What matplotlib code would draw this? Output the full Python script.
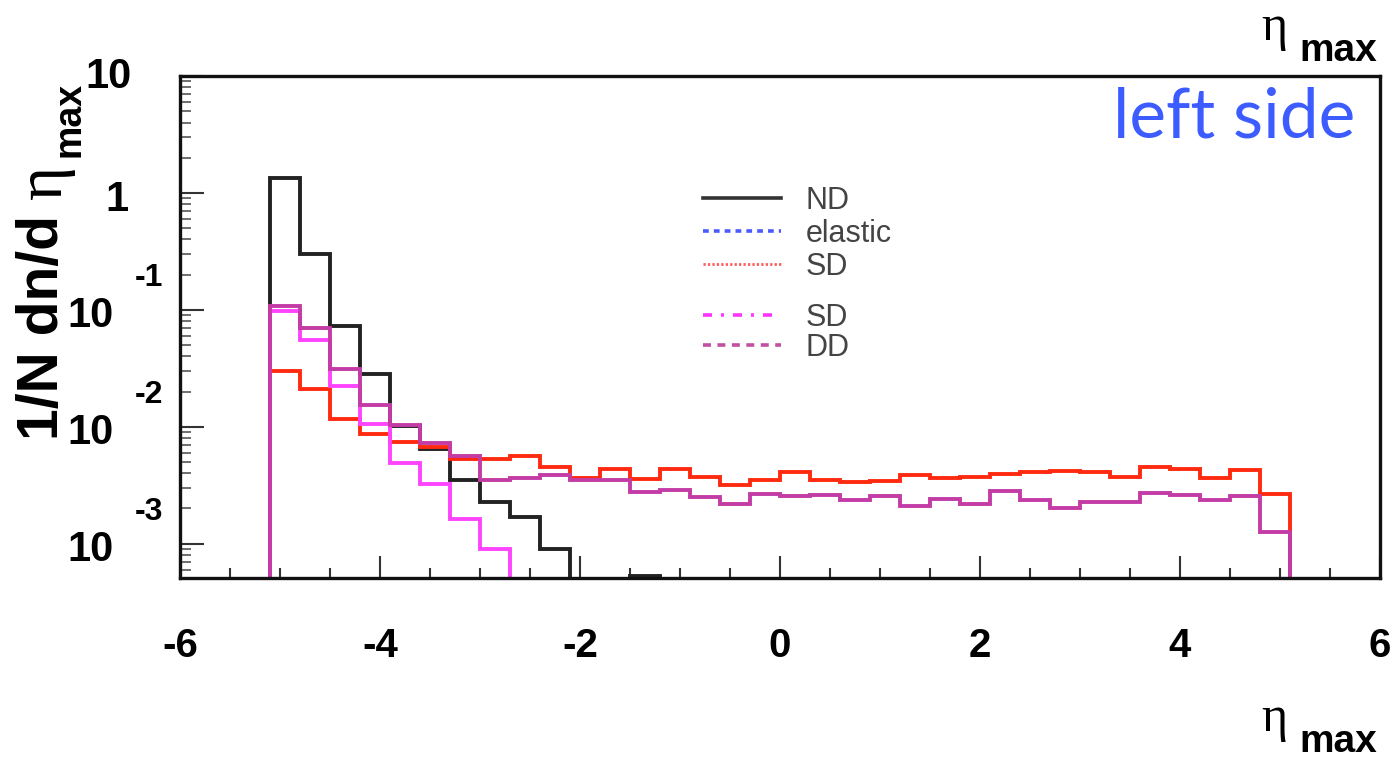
import numpy as np
import matplotlib.pyplot as plt
from matplotlib.lines import Line2D
from matplotlib.ticker import MultipleLocator, LogLocator, NullFormatter
from matplotlib.transforms import offset_copy

# 34 bins of 0.3 between -5.1 and 5.1
edges = np.round(np.arange(-5.1, 5.1001, 0.3), 2)

nd = [1.33, 0.30, 0.072, 0.028, 0.0101, 0.0064, 0.0035, 0.00225, 0.00168, 0.0009,
      0, 0, 0.00053, 0, 0, 0, 0, 0, 0, 0, 0, 0, 0, 0, 0, 0, 0, 0, 0, 0, 0, 0, 0, 0]
sd_red = [0.0299, 0.0211, 0.0117, 0.0086, 0.0074, 0.00676, 0.00527, 0.00533, 0.00562, 0.0045,
          0.00367, 0.00433, 0.00356, 0.00439, 0.00375, 0.0032, 0.00349, 0.00406, 0.00351, 0.00337,
          0.00344, 0.00387, 0.00367, 0.00375, 0.00393, 0.00411, 0.00419, 0.00411, 0.00375, 0.00448,
          0.00439, 0.00367, 0.00425, 0.00265]
sd_pink = [0.097, 0.0557, 0.0222, 0.0105, 0.00494, 0.00323, 0.00162, 0.0009,
           0, 0, 0, 0, 0, 0, 0, 0, 0, 0, 0, 0, 0, 0, 0, 0, 0, 0, 0, 0, 0, 0, 0, 0, 0, 0]
dd = [0.107, 0.070, 0.0313, 0.0152, 0.01035, 0.0073, 0.0056, 0.0035, 0.00367, 0.0039,
      0.00349, 0.00349, 0.00274, 0.00288, 0.00251, 0.00218, 0.00265, 0.00253, 0.0026, 0.00236,
      0.00253, 0.00208, 0.00243, 0.0022, 0.00283, 0.00236, 0.0020, 0.00225, 0.00225, 0.0027,
      0.0026, 0.00236, 0.00253, 0.00126]

xticks = [-6, -4, -2, 0, 2, 4, 6]
ydecades = [1, 0, -1, -2, -3]

legend1_labels = ['ND', 'elastic', 'SD']
legend2_labels = ['SD', 'DD']

W, H = 1397, 761
fig = plt.figure(figsize=(W / 100, H / 100), dpi=100)
ax = fig.add_axes([180 / W, 1 - 578 / H, 1200 / W, 502 / H])

floor = 1e-6
for vals, col, z in [(nd, '#222222', 2), (sd_red, '#ff2a10', 3),
                     (sd_pink, '#ff44ff', 4), (dd, '#c33ca5', 5)]:
    v = np.clip(np.array(vals, dtype=float), floor, None)
    ax.stairs(v, edges, baseline=floor, color=col, lw=2.8, zorder=z)

ax.set_yscale('log')
ax.set_xlim(-6, 6)
ax.set_ylim(5.08e-4, 10)

for s in ax.spines.values():
    s.set_linewidth(2.4)
    s.set_zorder(10)
    s.set_color('#111111')

ax.set_xticks(xticks)
ax.xaxis.set_minor_locator(MultipleLocator(0.5))
ax.set_xticklabels([str(t) for t in xticks], fontsize=29, fontweight='bold',
                   family='Liberation Sans')
ax.tick_params(axis='x', which='major', direction='in', length=16, width=1.5,
               color='#333333', pad=35, top=False)
ax.tick_params(axis='x', which='minor', direction='in', length=7, width=1.5,
               color='#333333', top=False)

ax.yaxis.set_major_locator(LogLocator(base=10, numticks=10))
ax.yaxis.set_minor_locator(LogLocator(base=10, subs=np.arange(2, 10), numticks=10))
ax.yaxis.set_major_formatter(NullFormatter())
ax.yaxis.set_minor_formatter(NullFormatter())
ax.tick_params(axis='y', which='major', direction='in', length=17, width=1.5,
               color='#333333', right=False)
ax.tick_params(axis='y', which='minor', direction='in', length=8, width=1.2,
               color='#555555', right=False)

# ROOT style y labels: "10" with the exponent raised to the right
ytr = ax.get_yaxis_transform()
for d in ydecades:
    y = 10.0 ** d
    if d == 1:
        ax.text(0, y, '10', transform=offset_copy(ytr, fig, x=-48, y=-12, units='dots'),
                ha='right', va='baseline', fontsize=30, fontweight='bold',
                family='Liberation Sans')
    elif d == 0:
        ax.text(0, y, '1', transform=offset_copy(ytr, fig, x=-52, y=-18, units='dots'),
                ha='right', va='baseline', fontsize=30, fontweight='bold',
                family='Liberation Sans')
    else:
        ax.text(0, y, '10', transform=offset_copy(ytr, fig, x=-66, y=-17, units='dots'),
                ha='right', va='baseline', fontsize=30, fontweight='bold',
                family='Liberation Sans')
        ax.text(0, y, str(d), transform=offset_copy(ytr, fig, x=-45, y=24, units='dots'),
                ha='left', va='baseline', fontsize=23, fontweight='bold',
                family='Liberation Sans')

# y axis title, rotated
fig.text(58 / W, 1 - 440 / H, '1/N dn/d', rotation=90, rotation_mode='anchor',
         ha='left', va='baseline', fontsize=41, fontweight='bold', family='Liberation Sans')
fig.text(61 / W, 1 - 199 / H, '\u03b7', rotation=90, rotation_mode='anchor',
         ha='left', va='baseline', fontsize=47, family='Liberation Serif')
fig.text(80 / W, 1 - 157 / H, 'max', rotation=90, rotation_mode='anchor',
         ha='left', va='baseline', fontsize=27, fontweight='bold', family='Liberation Sans')


def eta_max(ybase):
    fig.text(1261 / W, 1 - ybase / H, '\u03b7', ha='left', va='baseline',
             fontsize=36, family='Liberation Serif')
    fig.text(1299 / W, 1 - (ybase + 21) / H, 'max', ha='left', va='baseline',
             fontsize=28, fontweight='bold', family='Liberation Sans')


eta_max(40)
eta_max(731)

fig.text(1113 / W, 1 - 137 / H, 'left side', ha='left', va='baseline', fontsize=50,
         color='#3d5cff', family='Lato')

h1 = [Line2D([], [], color='#333333', lw=2.6, ls='-'),
      Line2D([], [], color='#4a5cff', lw=2.6, ls=(0, (1.6, 1.4))),
      Line2D([], [], color='#ff5a5a', lw=2.0, ls=(0, (0.8, 0.8)))]
h2 = [Line2D([], [], color='#ff33ff', lw=2.6, ls=(0, (2.5, 2.5, 0.8, 2.5))),
      Line2D([], [], color='#c050a0', lw=2.6, ls=(0, (2.2, 1.8)))]
leg_kw = dict(frameon=False, handlelength=2.55, handletextpad=0.8,
              borderpad=0, borderaxespad=0, loc='upper left',
              bbox_transform=fig.transFigure, prop={'family': 'Liberation Sans', 'size': 22})
l1 = ax.legend(h1, legend1_labels, bbox_to_anchor=(703 / W, 1 - 186 / H),
               labelspacing=0.1, **leg_kw)
for t in l1.get_texts():
    t.set_color('#444444')
ax.add_artist(l1)
l2 = ax.legend(h2, legend2_labels, bbox_to_anchor=(703 / W, 1 - 303 / H),
               labelspacing=0.0, **leg_kw)
for t in l2.get_texts():
    t.set_color('#444444')

fig.savefig('out.png', dpi=100)
